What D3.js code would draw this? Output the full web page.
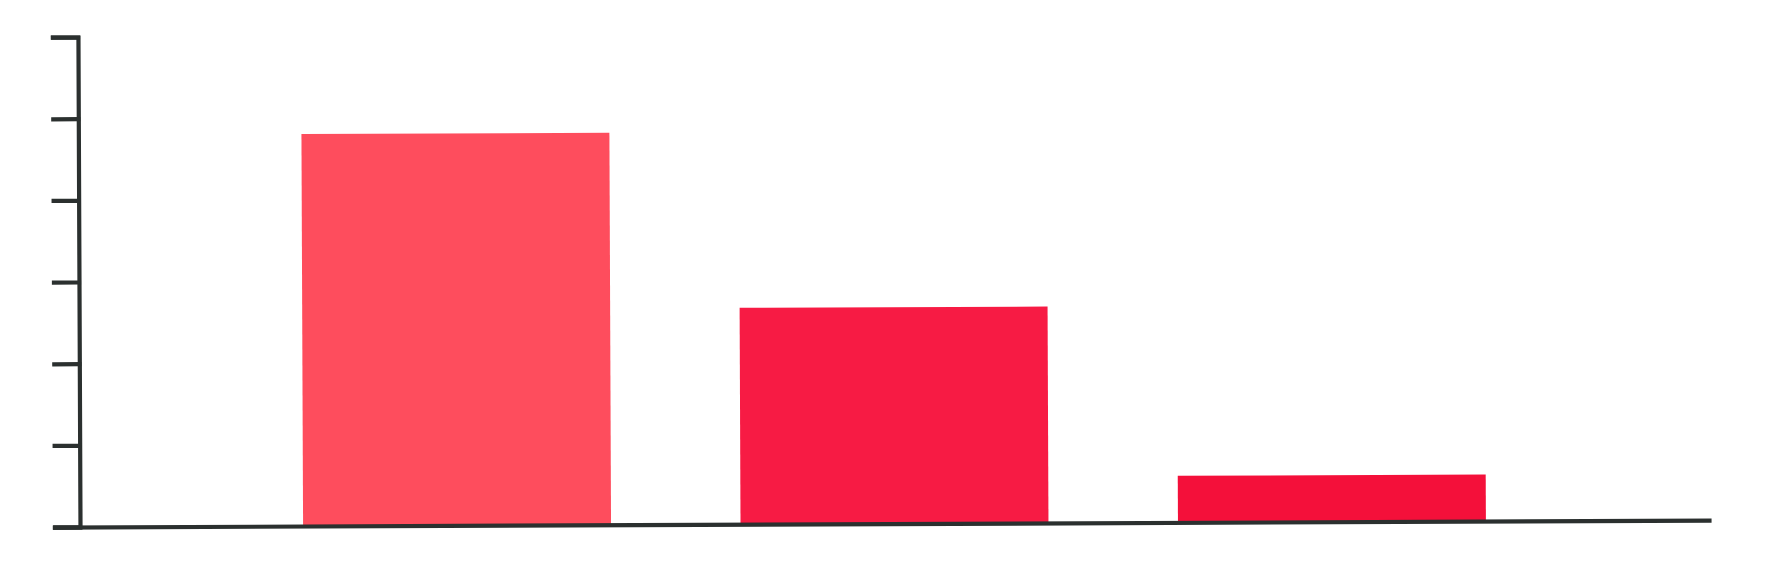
<!DOCTYPE html>
<html>
<head>
<meta charset="utf-8">
<script src="https://cdn.jsdelivr.net/npm/d3@7"></script>
<style>
  body { margin: 0; background: #fff; }
</style>
</head>
<body>
<script>
const categories = ["A", "B", "C"]
const values = [4.8, 2.65, 0.57]
const barColors = ["#fe4d5d", "#f71b44", "#f4103a"]
const yTicks = [0, 1, 2, 3, 4, 5, 6]

const svgWidth = 1775
const svgHeight = 583

const margin = { top: 37, right: 66, bottom: 56, left: 80 }

const chartHeight = svgHeight - margin.top - margin.bottom
const chartWidth = svgWidth - margin.left - margin.right
const tickLen = 25
const axisColor = "#2b302f"

const svg = d3.select("body").append("svg")
  .attr("width", svgWidth)
  .attr("height", svgHeight)

// the original is a scan, tilted a little
const chartG = svg.append("g")
  .attr("transform", `translate(${margin.left}, ${margin.top}) rotate(-0.24, 0, ${chartHeight})`)

const x = d3.scaleBand()
  .domain(categories)
  .range([0, chartWidth])
  .paddingInner(0.296)
  .paddingOuter(0.51)

const y = d3.scaleLinear()
  .domain([0, 6])
  .range([chartHeight, 0])

chartG.selectAll("rect")
  .data(values)
  .enter()
  .append("rect")
  .attr("x", (d, i) => x(categories[i]))
  .attr("y", d => y(d))
  .attr("width", x.bandwidth())
  .attr("height", d => y(0) - y(d))
  .attr("fill", (d, i) => barColors[i])

const yAxis = d3.axisLeft(y)
  .tickValues(yTicks)
  .tickSize(tickLen)
  .tickFormat("")

const yG = chartG.append("g").call(yAxis)

const xAxis = d3.axisBottom(d3.scaleLinear().range([-tickLen, chartWidth]))
  .tickValues([])
  .tickSizeOuter(0)

const xG = chartG.append("g")
  .attr("transform", `translate(0, ${chartHeight})`)
  .call(xAxis)

chartG.selectAll(".domain, .tick line")
  .style("stroke", axisColor)
  .style("stroke-width", "4.2px")
  .style("stroke-linecap", "square")
</script>
</body>
</html>
